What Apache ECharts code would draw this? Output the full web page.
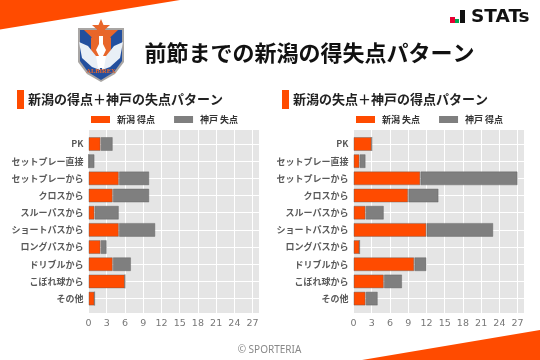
<!DOCTYPE html>
<html><head><meta charset="utf-8">
<style>html,body{margin:0;padding:0;background:#fff}#c{width:540px;height:360px}</style>
<script src="https://cdn.jsdelivr.net/npm/echarts@6/dist/echarts.min.js"></script>
</head><body><div id="c"></div>
<script>
const categories=['PK','セットプレー直接','セットプレーから','クロスから','スルーパスから','ショートパスから','ロングパスから','ドリブルから','こぼれ球から','その他'];
const xTicksMax=28.05;
const niigataFor=[2,0,5,4,1,5,2,4,6,1];
const kobeAgainst=[2,1,5,6,4,6,1,3,0,0];
const niigataAgainst=[3,1,11,9,2,12,1,10,5,2];
const kobeFor=[0,1,16,5,3,11,0,2,3,2];
const FONT='"Noto Sans CJK JP","Noto Sans",sans-serif';
const ORANGE='#ff4b00',GREY='#7f7f7f',BAR_EDGE='rgba(90,90,90,0.4)';
const panels=[
 {left:88.5,legendLeft:91,names:['新潟 得点','神戸 失点'],a:niigataFor,b:kobeAgainst},
 {left:353.5,legendLeft:356,names:['新潟 失点','神戸 得点'],a:niigataAgainst,b:kobeFor}
];
const W=170.5;
const grid=[],xAxis=[],yAxis=[],series=[],legend=[];
panels.forEach((p,i)=>{
 const g0=grid.length;
 grid.push({left:p.left,top:130,width:W,height:183,backgroundColor:'#e5e5e5',show:true,borderWidth:0});
 grid.push({left:p.left,top:144,width:W,height:154.6,show:false});
 xAxis.push({gridIndex:g0,type:'value',min:0,max:xTicksMax,interval:3,
  axisLine:{show:false},axisTick:{show:false},
  axisLabel:{color:'#777',fontSize:9.5,fontFamily:'"DejaVu Sans"',margin:6,showMaxLabel:false},
  splitLine:{show:true,lineStyle:{color:'#fff',width:1}}});
 xAxis.push({gridIndex:g0+1,type:'value',min:0,max:xTicksMax,show:false,splitLine:{show:false}});
 yAxis.push({gridIndex:g0,type:'value',show:false,splitLine:{show:false}});
 yAxis.push({gridIndex:g0+1,type:'category',data:categories,inverse:true,boundaryGap:false,
  axisLine:{show:false},axisTick:{show:false},
  axisLabel:{color:'#595959',fontSize:9,fontWeight:'bold',fontFamily:FONT,margin:5,interval:0},
  splitLine:{show:true,interval:0,lineStyle:{color:'#fff',width:1}}});
 [[p.names[0],p.a,ORANGE],[p.names[1],p.b,GREY]].forEach(([name,data,color])=>{
  series.push({type:'bar',name,data,stack:'s'+i,xAxisIndex:g0+1,yAxisIndex:g0+1,barWidth:14,clip:false,
   itemStyle:{color,borderColor:BAR_EDGE,borderWidth:1},emphasis:{disabled:true}});
 });
 legend.push({left:p.legendLeft,top:115,data:p.names,icon:'rect',itemWidth:19,itemHeight:7,itemGap:19,
  itemStyle:{borderWidth:0},
  textStyle:{color:'#333',fontSize:9,fontWeight:'bold',fontFamily:FONT,padding:[0,0,0,2]},selectedMode:false,padding:0});
});
const txt=(x,y,text,font,fill,align)=>({type:'text',x,y,silent:true,style:{text,font,fill,textAlign:align||'left',textVerticalAlign:'middle'}});
const rect=(x,y,width,height,fill)=>({type:'rect',silent:true,shape:{x,y,width,height},style:{fill}});
const poly=(points,fill)=>({type:'polygon',silent:true,shape:{points},style:{fill}});
const CREST_ORANGE='#e8662a',CREST_BLUE='#234f9e';
const graphic=[
 poly([[0,0],[180,0],[0,29.5]],ORANGE),
 poly([[540,330],[540,360],[362,360]],ORANGE),
 txt(309.5,53,'前節までの新潟の得失点パターン','bold 22px '+FONT,'#111','center'),
 rect(17,90,7,19,ORANGE),rect(282,90,7,19,ORANGE),
 txt(28,99.5,'新潟の得点＋神戸の失点パターン','bold 13px '+FONT,'#222'),
 txt(293,99.5,'新潟の失点＋神戸の得点パターン','bold 13px '+FONT,'#222'),
 txt(269.5,350,'© SPORTERIA','10px "Noto Sans"','#888','center'),
 // crest
 poly([[78,28],[124,28],[124,62],[115,74],[101,82],[87,74],[78,62]],'#a9a6a4'),
 poly([[80,30],[122,30],[122,61],[114,72],[101,80],[88,72],[80,61]],CREST_BLUE),
 poly([[84,30],[118,30],[101,46]],CREST_ORANGE),
 poly([[101,19],[103.5,25],[110,25],[105,29.5],[107,35],[101,31.5],[95,35],[97,29.5],[92,25],[98.5,25]],CREST_ORANGE),
 poly([[91,38],[96,33],[101,36],[106,33],[111,38],[111,50],[106,58],[96,58],[91,50]],CREST_ORANGE),
 poly([[99,36],[103,36],[103,44],[106,50],[103,56],[99,56],[96,50],[99,44]],'#fff'),
 poly([[79,42],[88,46],[96,56],[100,60],[100,70],[92,67],[82,58]],'#e9eff6'),
 poly([[123,42],[114,46],[106,56],[102,60],[102,70],[110,67],[120,58]],'#e9eff6'),
 poly([[96,56],[106,56],[104,68],[98,68]],'#fff'),
 txt(101,71.5,'ALBIREX','bold 6.5px "Liberation Serif"',CREST_ORANGE,'center'),
 // stats mark
 rect(450,17,5,6,'#e60033'),rect(455,19,4,4,'#00a651'),rect(460,10,5,13,'#111'),
 txt(471,17,'STATs','bold 18.5px "DejaVu Sans"','#111')
];
const chart=echarts.init(document.getElementById('c'),null,{renderer:'canvas'});
chart.setOption({animation:false,backgroundColor:'#fff',grid,xAxis,yAxis,series,legend,graphic});
</script></body></html>
